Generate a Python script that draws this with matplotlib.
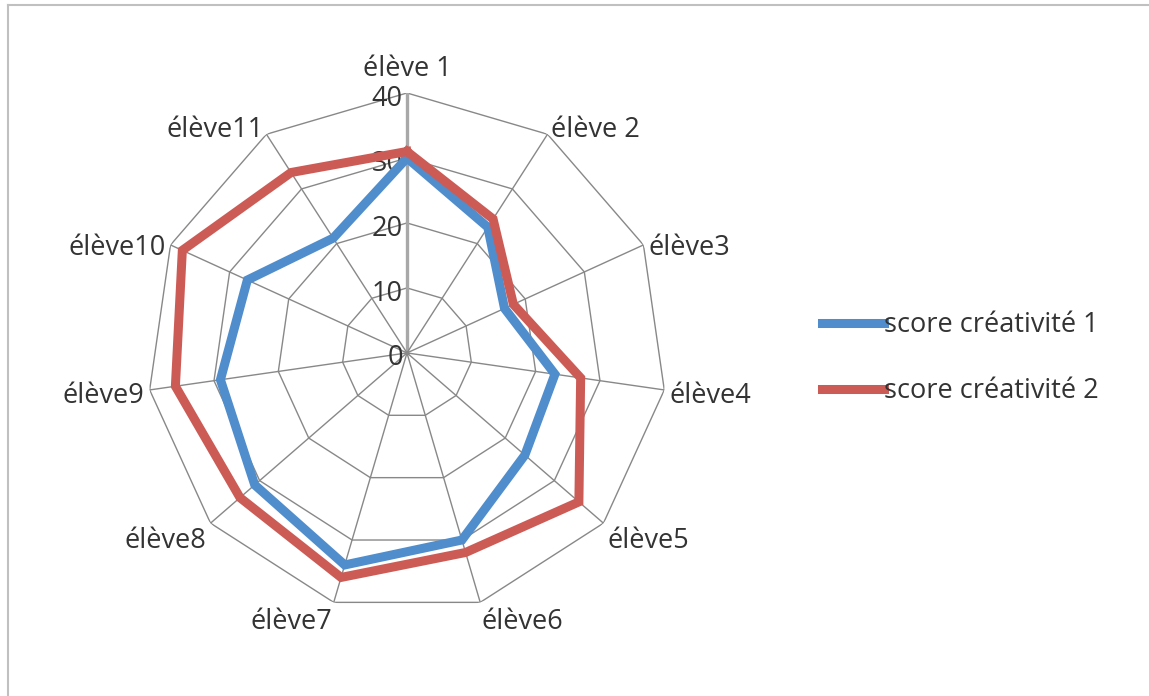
import numpy as np
import matplotlib
matplotlib.use("Agg")
import matplotlib.pyplot as plt
from matplotlib.lines import Line2D

plt.rcParams['font.family'] = ['Open Sans', 'DejaVu Sans']

categories = ['élève 1', 'élève 2', 'élève3', 'élève4', 'élève5', 'élève6',
              'élève7', 'élève8', 'élève9', 'élève10', 'élève11']
score1 = [30, 23, 16.5, 23, 24, 30, 34, 31, 29, 27, 21]
score2 = [31, 24.5, 18, 27, 35, 32, 36, 34, 36, 38, 33]
series_names = ['score créativité 1', 'score créativité 2']
rings = [10, 20, 30, 40]
tick_labels = ['0', '10', '20', '30', '40']

blue = '#4F8DCC'
red = '#CD5B55'
fs = 19.5

n = len(categories)
theta = np.arange(n) * 2 * np.pi / n
theta_closed = np.append(theta, theta[0])

fig = plt.figure(figsize=(11.49, 6.96), dpi=100)
ax = fig.add_axes([0.1279, 0.1194, 0.4526, 0.747], projection='polar')
ax.set_theta_offset(np.pi / 2)
ax.set_theta_direction(-1)
ax.set_ylim(0, 40)
ax.grid(False)
ax.set_xticks([])
ax.set_yticks([])
ax.spines['polar'].set_visible(False)
ax.patch.set_alpha(0)

# polygon grid
for r in rings:
    ax.plot(theta_closed, [r] * (n + 1), color='#888888', lw=1.0, zorder=1)
for i, t in enumerate(theta):
    if i == 0:
        ax.plot([t, t], [0, 40], color='#a8a8a8', lw=2.4, zorder=1)
    else:
        ax.plot([t, t], [0, 40], color='#888888', lw=1.0, zorder=1)

# value labels along the vertical axis
for i, lab in enumerate(tick_labels):
    ax.annotate(lab, xy=(0, i * 10), xytext=(-3, -4), textcoords='offset points',
                ha='right', va='center', fontsize=fs, color='#333333', zorder=2)

# category labels
for t, lab in zip(theta, categories):
    s, c = np.sin(t), np.cos(t)
    if s > 0.1:
        ha = 'left'
    elif s < -0.1:
        ha = 'right'
    else:
        ha = 'center'
    if c > 0.9:
        va = 'bottom'
        dy = 7
    elif c < -0.5:
        va = 'top'
        dy = 4 * c
    else:
        va = 'center'
        dy = 4 * c - (4 if abs(c) < 0.5 else 0)
    ax.annotate(lab, xy=(t, 40), xytext=(4 * s, dy),
                textcoords='offset points', ha=ha, va=va, fontsize=fs,
                color='#333333', annotation_clip=False)

ax.plot(theta_closed, score1 + score1[:1], color=blue, lw=6.5,
        solid_joinstyle='miter', zorder=3, label=series_names[0])
ax.plot(theta_closed, score2 + score2[:1], color=red, lw=6.5,
        solid_joinstyle='miter', zorder=4, label=series_names[1])

fig.legend(loc='center left', bbox_to_anchor=(0.694, 0.485), frameon=False,
           handlelength=2.3, handletextpad=0.0, labelspacing=1.4,
           fontsize=fs, labelcolor='#333333')

# outer chart border
fig.add_artist(Line2D([0.007, 1.0], [0.9928, 0.9928], color='#c0c0c0', lw=1.5))
fig.add_artist(Line2D([0.007, 0.007], [0.0, 0.9928], color='#c0c0c0', lw=1.5))

fig.savefig('out.png', dpi=100)
